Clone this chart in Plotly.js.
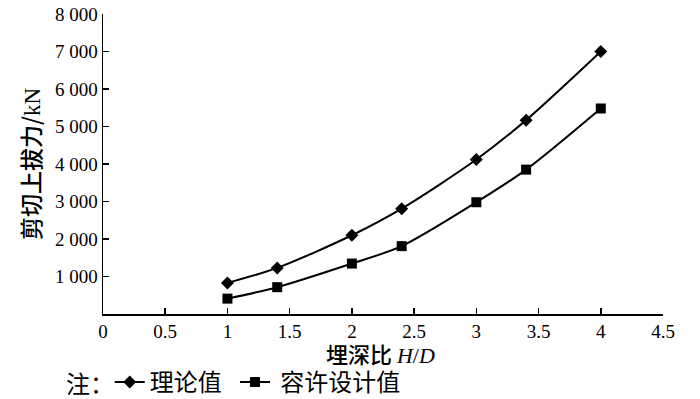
<!DOCTYPE html>
<html>
<head>
<meta charset="utf-8">
<script src="https://cdn.plot.ly/plotly-3.0.1.min.js"></script>
<style>html,body{margin:0;padding:0;background:#fff;}#chart{width:700px;height:399px;}</style>
</head>
<body>
<div id="chart"></div>
<script>
var ratios = [1, 1.4, 2, 2.4, 3, 3.4, 4];
var theoretical = [830, 1230, 2100, 2810, 4120, 5170, 7000];
var allowable = [410, 715, 1345, 1810, 2980, 3850, 5480];
var seriesNames = ['理论值', ' 容许设计值'];
var xTickVals = [0, 0.5, 1, 1.5, 2, 2.5, 3, 3.5, 4, 4.5];
var xTickText = ['0', '0.5', '1', '1.5', '2', '2.5', '3', '3.5', '4', '4.5'];
var yTickVals = [1000, 2000, 3000, 4000, 5000, 6000, 7000, 8000];
var yTickText = ['1 000', '2 000', '3 000', '4 000', '5 000', '6 000', '7 000', '8 000'];
var xTitle = '埋深比';
var yTitle = '剪切上拔力/';

var fontFam = '"Liberation Serif", "Noto Sans CJK SC", serif';
var cjkFam = '"Noto Sans CJK SC", "Liberation Serif", sans-serif';
var serifSpan = '<span style="font-family:\'Liberation Serif\', serif;">';
var traces = [
  {x: ratios, y: theoretical, name: seriesNames[0], mode: 'lines+markers', type: 'scatter', legend: 'legend',
   line: {color: '#000', width: 2, shape: 'spline', smoothing: 0.8},
   marker: {symbol: 'diamond', size: 10, color: '#000'}},
  {x: ratios, y: allowable, name: seriesNames[1], mode: 'lines+markers', type: 'scatter', legend: 'legend2',
   line: {color: '#000', width: 2, shape: 'spline', smoothing: 0.8},
   marker: {symbol: 'square', size: 10, color: '#000'}}
];
var legFont = {family: cjkFam, size: 24, color: '#000'};
var layout = {
  width: 700, height: 399,
  margin: {l: 103, r: 37, t: 14, b: 85, autoexpand: false},
  paper_bgcolor: '#fff', plot_bgcolor: '#fff',
  font: {family: fontFam, color: '#000', size: 19},
  showlegend: true,
  legend: {orientation: 'h', x: 0.012, xanchor: 'left', y: -0.228, yanchor: 'middle',
           font: legFont, bgcolor: 'rgba(0,0,0,0)', itemwidth: 30},
  legend2: {orientation: 'h', x: 0.2357, xanchor: 'left', y: -0.228, yanchor: 'middle',
           font: legFont, bgcolor: 'rgba(0,0,0,0)', itemwidth: 30},
  xaxis: {range: [0, 4.5], tickvals: xTickVals, ticktext: xTickText, ticks: 'inside', ticklen: 6,
          tickwidth: 1.5, tickcolor: '#000', showline: true, linecolor: '#000', linewidth: 1.5,
          showgrid: false, zeroline: false, fixedrange: true, automargin: false,
          tickfont: {family: fontFam, size: 19, color: '#000'}},
  yaxis: {range: [0, 8000], tickvals: yTickVals, ticktext: yTickText, ticks: 'inside', ticklen: 6,
          tickwidth: 1.5, tickcolor: '#000', showline: true, linecolor: '#000', linewidth: 1.5,
          showgrid: false, zeroline: false, fixedrange: true, automargin: false,
          tickfont: {family: fontFam, size: 19, color: '#000'},
          title: {text: yTitle + serifSpan + 'kN</span>', standoff: 8,
                  font: {family: cjkFam, size: 23, color: '#000', weight: 500}}},
  annotations: [
    {text: xTitle + ' ' + serifSpan + '<i>H</i>/<i>D</i></span>', xref: 'paper', yref: 'paper',
     x: 0.495, y: -0.13, xanchor: 'center', yanchor: 'middle', showarrow: false, borderpad: 0,
     font: {family: cjkFam, size: 22, color: '#000', weight: 500}},
    {text: '注：', xref: 'paper', yref: 'paper', x: -0.07, y: -0.228, xanchor: 'left', yanchor: 'middle',
     showarrow: false, font: legFont}
  ]
};
Plotly.newPlot('chart', traces, layout, {displayModeBar: false, staticPlot: true});
</script>
</body>
</html>
